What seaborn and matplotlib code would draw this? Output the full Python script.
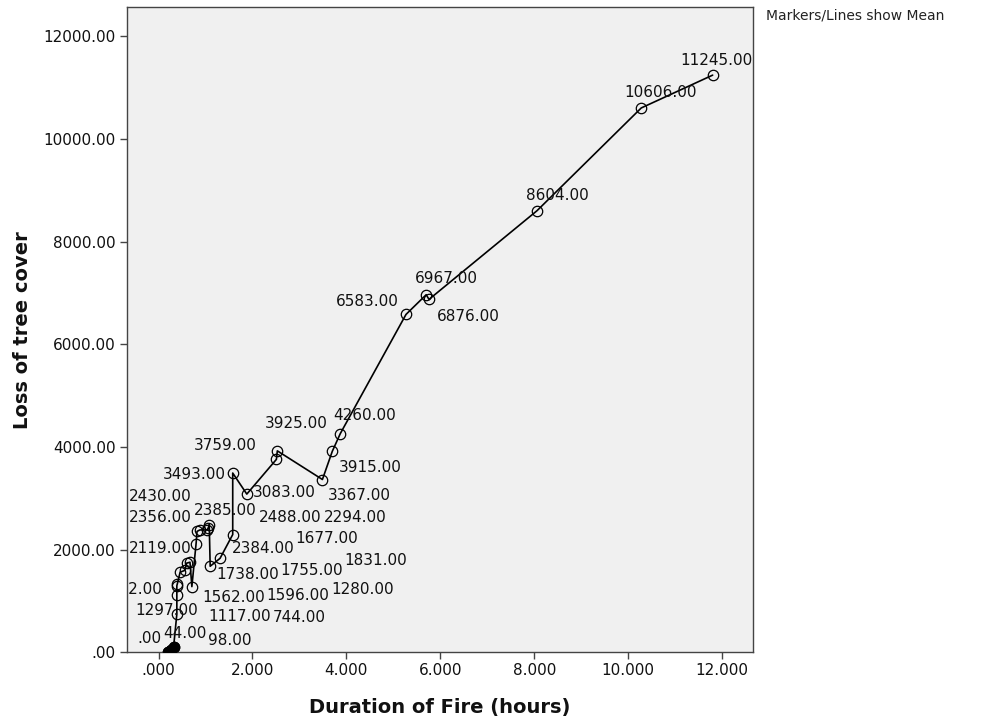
import matplotlib
matplotlib.use('Agg')
import matplotlib.pyplot as plt
import seaborn as sns
import pandas as pd
from matplotlib.ticker import FuncFormatter

#----------------------------------------------------
# mean loss of tree cover per fire duration
hours = [0.20, 0.26, 0.32, 0.39, 0.39, 0.39, 0.40, 0.46, 0.56, 0.60, 0.67, 0.71,
         0.80, 0.82, 0.88, 1.04, 1.06, 1.08, 1.10, 1.31, 1.58, 1.58, 1.88,
         2.51, 2.53, 3.49, 3.70, 3.87, 5.27, 5.70, 5.76, 8.06, 10.28, 11.80]
loss = [0, 44, 98, 744, 1117, 1297, 1332, 1562, 1596, 1738, 1755, 1280,
        2119, 2356, 2384, 2385, 2430, 2488, 1677, 1831, 2294, 3493, 3083,
        3759, 3925, 3367, 3915, 4260, 6583, 6967, 6876, 8604, 10606, 11245]

# label placement (pixel offsets from each marker)
label_dx = [-18, 14, 56, 122, 63, -10, -15, 54, 113, 61, 122, 171,
            -36, -37, 63, 18, -48, 81, 117, 156, 123, -38, 37,
            -51, 19, 37, 38, 24, -39, 20, 39, 20, 19, 4]
label_dy = [14, 17, 7, -3, -22, -25, -6, -25, -25, -11, -8, -3,
            -5, 14, -19, 19, 31, 7, 28, -2, 17, -1, 2,
            14, 27, -16, -16, 18, 13, 16, -17, 15, 15, 15]

x_ticks = [0, 2, 4, 6, 8, 10, 12]
y_ticks = [0, 2000, 4000, 6000, 8000, 10000, 12000]

df = pd.DataFrame({'hours': hours, 'loss': loss})

#----------------------------------------------------
sns.set_theme(style='white', rc={'axes.facecolor': '#F0F0F0', 'axes.edgecolor': '#444444',
                                 'axes.linewidth': 1.0, 'xtick.bottom': True, 'ytick.left': True})
plt.rcParams['font.family'] = ['DejaVu Sans']

fig = plt.figure(figsize=(9.85, 7.24), dpi=100)
ax = fig.add_axes([0.1289, 0.099, 0.6356, 0.8913])

sns.lineplot(data=df, x='hours', y='loss', estimator=None, sort=True, color='black', lw=1.2,
             marker='o', markersize=7.5, markerfacecolor='none', markeredgecolor='black',
             markeredgewidth=0.9, ax=ax)
# overlapping zero-loss markers form a solid blob
sns.scatterplot(data=df[df['loss'] < 100], x='hours', y='loss', color='black', s=60,
                edgecolor='black', ax=ax, zorder=3)

for i, (h, v) in enumerate(zip(hours, loss)):
    txt = '.00' if v == 0 else f'{v:.2f}'
    ha = 'right' if v == 1332 else 'center'
    ax.annotate(txt, (h, v), xytext=(label_dx[i], label_dy[i]), textcoords='offset pixels',
                ha=ha, va='center', fontsize=11, color='#111111', annotation_clip=False,
                clip_on=True)

#adjust
ax.set_xlim(-0.672, 12.66)
ax.set_ylim(0, 12572)
ax.set_xticks(x_ticks)
ax.set_yticks(y_ticks)
ax.xaxis.set_major_formatter(FuncFormatter(lambda v, p: f'{v:.3f}'.lstrip('0') if v == 0 else f'{v:.3f}'))
ax.yaxis.set_major_formatter(FuncFormatter(lambda v, p: '.00' if v == 0 else f'{v:.2f}'))
ax.tick_params(axis='both', length=5, width=1, color='#444444', labelsize=11, labelcolor='#111111', pad=3)
ax.set_xlabel('Duration of Fire (hours)', fontsize=14, weight='bold', labelpad=14, color='#111111')
ax.set_ylabel('Loss of tree cover', fontsize=14, weight='bold', labelpad=8, color='#111111')
fig.text(0.778, 0.979, 'Markers/Lines show Mean', fontsize=10, ha='left', va='center', color='#222222')

#save
fig.savefig('out.png', dpi=100)
plt.close()
